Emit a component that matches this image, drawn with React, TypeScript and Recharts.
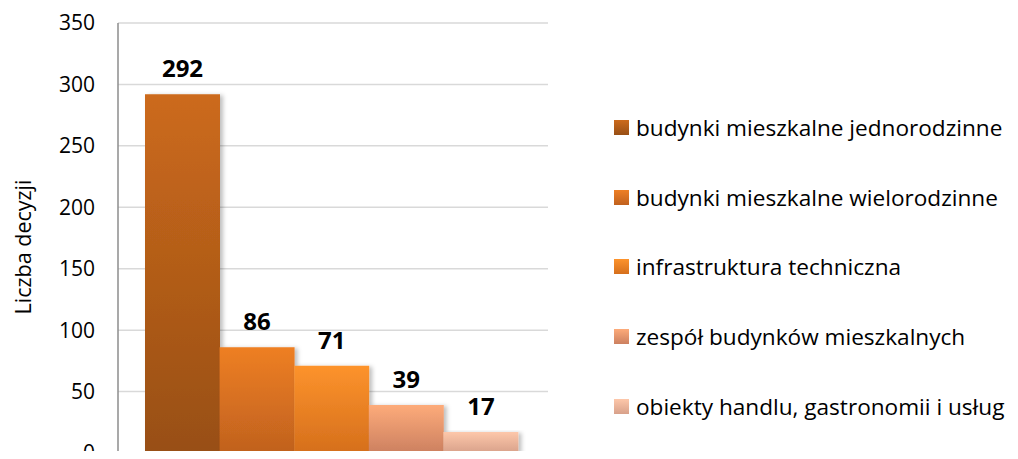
import { Bar, BarChart, CartesianGrid, Cell, LabelList, XAxis, YAxis } from "recharts";

const seriesNames = [
  "budynki mieszkalne jednorodzinne",
  "budynki mieszkalne wielorodzinne",
  "infrastruktura techniczna",
  "zespół budynków mieszkalnych",
  "obiekty handlu, gastronomii i usług",
];
const seriesValues = [292, 86, 71, 39, 17];
const yTicks = [0, 50, 100, 150, 200, 250, 300, 350];

const gradients: [string, string][] = [
  ["#cc6a1c", "#984f15"],
  ["#ee7f24", "#c0611e"],
  ["#fd932c", "#d56f1c"],
  ["#fdab7a", "#cc8060"],
  ["#fdc7aa", "#d8a18a"],
];

const data = seriesNames.map((name, i) => ({ name, value: seriesValues[i] }));

const FONT = "'Open Sans', sans-serif";

function LegendList() {
  return (
    <div style={{ position: "absolute", left: 614, top: 93, width: 404, fontFamily: FONT }}>
      {seriesNames.map((name, i) => (
        <div key={name} style={{ height: 69.6, display: "flex", alignItems: "center" }}>
          <span
            style={{
              width: 15,
              height: 15,
              marginRight: 7,
              flexShrink: 0,
              background: `linear-gradient(${gradients[i][0]}, ${gradients[i][1]})`,
              display: "inline-block",
            }}
          />
          <span style={{ fontSize: 22.6, color: "#000", whiteSpace: "nowrap" }}>{name}</span>
        </div>
      ))}
    </div>
  );
}

export default function App() {
  return (
    <div
      style={{
        margin: -8,
        width: 1018,
        height: 459,
        background: "#fff",
        position: "relative",
        overflow: "hidden",
      }}
    >
      <BarChart
        width={1018}
        height={459}
        data={data}
        margin={{ top: 23, right: 470, bottom: 6, left: 0 }}
        barCategoryGap={0}
        barGap={0}
      >
        <defs>
          {gradients.map(([top, bottom], i) => (
            <linearGradient key={i} id={`g${i}`} x1="0" y1="0" x2="0" y2="1">
              <stop offset="0%" stopColor={top} />
              <stop offset="100%" stopColor={bottom} />
            </linearGradient>
          ))}
          <filter id="shadow" x="-10%" y="-10%" width="130%" height="120%">
            <feDropShadow dx="3" dy="1" stdDeviation="2" floodColor="#000" floodOpacity="0.25" />
          </filter>
        </defs>
        <CartesianGrid vertical={false} stroke="#d9d9d9" strokeWidth={1.5} />
        <XAxis
          dataKey="name"
          tick={false}
          tickLine={false}
          height={0}
          padding={{ left: 27, right: 30 }}
          axisLine={{ stroke: "#bdbdbd", strokeWidth: 1.5 }}
        />
        <YAxis
          domain={[0, 350]}
          ticks={yTicks}
          interval={0}
          width={118}
          tickSize={0}
          tickMargin={23}
          axisLine={{ stroke: "#8c8c8c", strokeWidth: 1.5 }}
          tickLine={false}
          tick={{ fontFamily: FONT, fontSize: 21, fill: "#000" }}
          label={{
            content: ({ viewBox }: any) => {
              const cx = viewBox.x + 22;
              const cy = viewBox.y + viewBox.height / 2 + 9;
              return (
                <text
                  x={cx}
                  y={cy}
                  transform={`rotate(-90 ${cx} ${cy})`}
                  textAnchor="middle"
                  dominantBaseline="central"
                  fontFamily={FONT}
                  fontSize={21.5}
                  fill="#000"
                >
                  Liczba decyzji
                </text>
              );
            },
          }}
        />
        <Bar dataKey="value" filter="url(#shadow)" isAnimationActive={false}>
          {data.map((d, i) => (
            <Cell key={d.name} fill={`url(#g${i})`} />
          ))}
          <LabelList
            dataKey="value"
            position="top"
            offset={17}
            style={{ fontFamily: FONT, fontSize: 24, fontWeight: 700, fill: "#000" }}
          />
        </Bar>
      </BarChart>
      <LegendList />
    </div>
  );
}
